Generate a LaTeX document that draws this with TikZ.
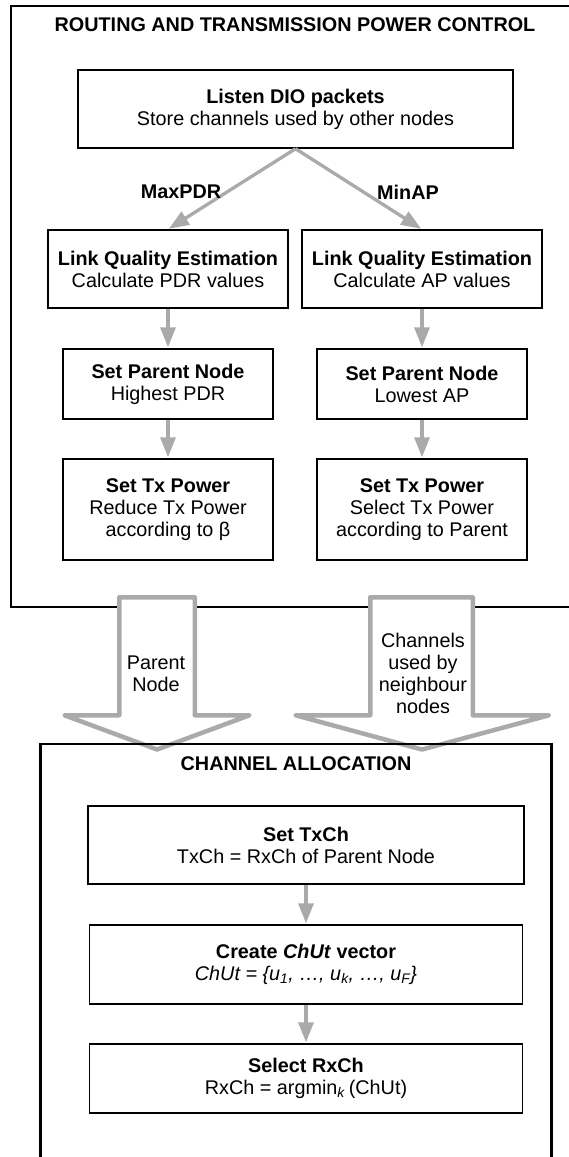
\documentclass[tikz,border=0pt]{standalone}
\usepackage{fontspec}
\setmainfont{Liberation Sans}
\usetikzlibrary{arrows.meta}
\definecolor{flowgray}{RGB}{170,170,170}
\newcommand\diafont{\fontsize{19.8}{22}\selectfont}
\begin{document}
\begin{tikzpicture}[x=1pt,y=-1pt,
  frame/.style={draw=black,line width=2.9pt},
  stepbox/.style={draw=black,line width=1.4pt,fill=white,align=center,inner sep=0pt,font=\diafont},
  heading/.style={font=\diafont\bfseries,inner sep=0pt},
  plain/.style={font=\diafont,align=center,inner sep=0pt},
  flow/.style={draw=flowgray,line width=3.3pt,-{Triangle[length=20pt,width=15pt]},shorten >=1pt},
  bigarrow/.style={draw=flowgray,line width=4.5pt,fill=white,line join=round}]
\clip (0,0) rectangle (569,1157);

% ---- routing and transmission power control ----
\draw[frame] (11,6) rectangle (640,607);
\node[heading] (title1) at (295,25) {ROUTING AND TRANSMISSION POWER CONTROL};

\node[stepbox,minimum width=435pt,minimum height=78pt] (dio) at (295.5,109)
  {\textbf{Listen DIO packets}\\Store channels used by other nodes};

\node[stepbox,minimum width=240pt,minimum height=78pt] (lqeL) at (168,269)
  {\textbf{Link Quality Estimation}\\Calculate PDR values};
\node[stepbox,minimum width=240pt,minimum height=78pt] (lqeR) at (422,269)
  {\textbf{Link Quality Estimation}\\Calculate AP values};

\node[stepbox,minimum width=210pt,minimum height=70pt] (parL) at (168,384)
  {\textbf{Set Parent Node}\\Highest PDR};
\node[stepbox,minimum width=210pt,minimum height=70pt] (parR) at (422,384)
  {\textbf{Set Parent Node}\\Lowest AP};

\node[stepbox,minimum width=210pt,minimum height=101pt] (txL) at (168,509.5)
  {\textbf{Set Tx Power}\\Reduce Tx Power\\according to β};
\node[stepbox,minimum width=210pt,minimum height=101pt] (txR) at (422,509.5)
  {\textbf{Set Tx Power}\\Select Tx Power\\according to Parent};

\draw[flow] (dio.south) -- (lqeL.north);
\draw[flow] (dio.south) -- (lqeR.north);
\node[heading] (maxpdr) at (181,192) {MaxPDR};
\node[heading] (minap) at (408,192) {MinAP};

\draw[flow] (lqeL) -- (parL);
\draw[flow] (lqeR) -- (parR);
\draw[flow] (parL) -- (txL);
\draw[flow] (parR) -- (txR);

% ---- hollow transfer arrows ----
\draw[bigarrow] (119.25,597.25) -- (194.75,597.25) -- (194.75,715.25) -- (249.5,715.25)
  -- (157,749.5) -- (64.5,715.25) -- (119.25,715.25) -- cycle;
\node[plain] (parentlbl) at (156,673.5) {Parent\\Node};

\draw[bigarrow] (370.25,597.25) -- (472.75,597.25) -- (472.75,715.25) -- (549,715.25)
  -- (422,749.5) -- (295.5,715.25) -- (370.25,715.25) -- cycle;
\node[plain,text depth=0pt] (chanlbl) at (423,673)
  {Channels\\used by\\neighbour\\nodes};

% ---- channel allocation ----
\draw[frame] (40.5,744) rectangle (551.5,1230);
\node[heading] (title2) at (296,763.5) {CHANNEL ALLOCATION};

\node[stepbox,minimum width=436pt,minimum height=78pt] (txch) at (306,845)
  {\textbf{Set TxCh}\\TxCh = RxCh of Parent Node};
\node[stepbox,minimum width=433pt,minimum height=79pt] (chut) at (306,964.5)
  {\textbf{Create \textit{ChUt} vector}\\\textit{ChUt = \{u\textsubscript{1}, …, u\textsubscript{k}, …, u\textsubscript{F}\}}};
\node[stepbox,minimum width=433pt,minimum height=69pt] (rxch) at (306,1078.5)
  {\textbf{Select RxCh}\\RxCh = argmin\textsubscript{\textit{k}}\,(ChUt)};

\draw[flow] (txch) -- (chut);
\draw[flow] (chut) -- (rxch);
\end{tikzpicture}
\end{document}
